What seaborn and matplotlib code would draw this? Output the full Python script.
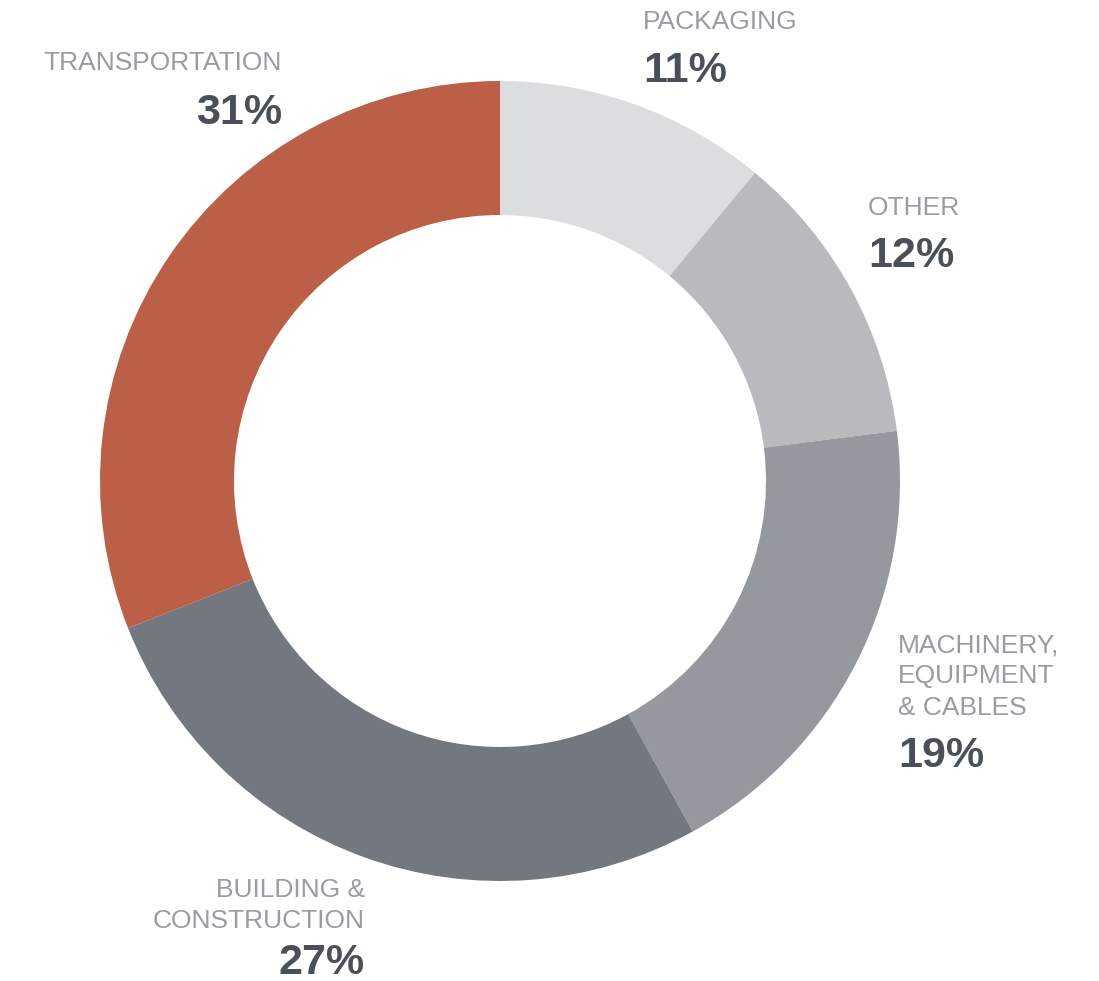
import matplotlib
matplotlib.use("Agg")
import matplotlib.pyplot as plt
import seaborn as sns

sns.set_theme(style="white")
plt.rcParams['font.family'] = ['Liberation Sans', 'DejaVu Sans']

categories = ["PACKAGING", "OTHER", "MACHINERY,\nEQUIPMENT\n& CABLES", "BUILDING &\nCONSTRUCTION", "TRANSPORTATION"]
values = [11, 12, 19, 27, 31]
colors = ["#DCDDDF", "#B9BABE", "#95989F", "#73777F", "#BB6047"]

W, H = 1099, 981
fig = plt.figure(figsize=(W / 100, H / 100), dpi=100)
ax = fig.add_axes([0, 0, 1, 1])
ax.set_xlim(0, W)
ax.set_ylim(0, H)
ax.set_aspect("equal")
ax.axis("off")

cx, cy, R = 500, H - 481, 400
ax.pie(values, colors=sns.color_palette(colors), startangle=90, counterclock=False,
       center=(cx, cy), radius=R, wedgeprops=dict(width=R - 266, linewidth=0),
       frame=False)
ax.set_xlim(0, W)
ax.set_ylim(0, H)
ax.axis("off")

label_col = "#9A9CA3"
pct_col = "#4A505A"
lfs, pfs = 19, 31

# (x, label baseline y, pct baseline y, ha) in pixel coords from top
pos = [
    (643, 29, 82, "left"),
    (868, 215, 267, "left"),
    (898, 652, 767, "left"),
    (365, 897, 974, "right"),
    (282, 70, 124, "right"),
]
line_gap = 31.5
for cat, val, (x, ly, py, ha) in zip(categories, values, pos):
    lines = cat.split("\n")
    for i, ln in enumerate(lines):
        ax.text(x, H - (ly + i * line_gap), ln, ha=ha, va="baseline",
                fontsize=lfs, color=label_col)
    ax.text(x, H - py, f"{val}%", ha=ha, va="baseline", fontsize=pfs,
            fontweight="bold", color=pct_col)

fig.savefig("out.png", dpi=100, facecolor="white")
